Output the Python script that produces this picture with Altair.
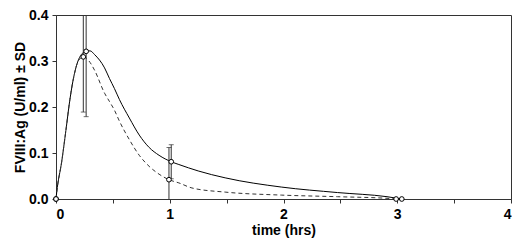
import altair as alt
import pandas as pd

# Fitted curves
solid_t = [0.0, 0.006, 0.05, 0.087, 0.122, 0.16, 0.2, 0.261, 0.30, 0.339, 0.427, 0.47, 0.514, 0.558,
           0.645, 0.732, 0.819, 0.906, 1.013, 1.08, 1.25, 1.487, 1.98, 2.475, 2.91, 3.04]
solid_v = [0.0, 0.014, 0.081, 0.149, 0.216, 0.270, 0.304, 0.321, 0.322, 0.314, 0.285, 0.262, 0.240, 0.216,
           0.176, 0.139, 0.112, 0.095, 0.081, 0.075, 0.061, 0.046, 0.026, 0.014, 0.005, 0.0]

dashed_t = [0.0, 0.006, 0.05, 0.087, 0.122, 0.16, 0.2, 0.244, 0.29, 0.339, 0.427, 0.47, 0.514, 0.558,
            0.645, 0.732, 0.819, 0.906, 0.993, 1.08, 1.195, 1.487, 1.98, 2.475, 2.94, 2.99]
dashed_v = [0.0, 0.014, 0.081, 0.149, 0.216, 0.270, 0.302, 0.309, 0.300, 0.280, 0.230, 0.212, 0.193, 0.169,
            0.129, 0.095, 0.071, 0.054, 0.042, 0.035, 0.024, 0.015, 0.0085, 0.005, 0.001, 0.0]

# Measured points with ± SD
pt_series = ["solid", "solid", "solid", "solid", "dashed", "dashed", "dashed", "dashed"]
pt_t = [0.0, 0.265, 1.013, 3.04, 0.0, 0.24, 0.993, 2.99]
pt_mean = [0.0, 0.321, 0.081, 0.0, 0.0, 0.309, 0.042, 0.0]
pt_sd = [0.0, 0.142, 0.037, 0.0, 0.0, 0.12, 0.070, 0.0]

curves = pd.DataFrame(
    {"t": solid_t + dashed_t,
     "v": solid_v + dashed_v,
     "series": ["solid"] * len(solid_t) + ["dashed"] * len(dashed_t),
     "order": list(range(len(solid_t))) + list(range(len(dashed_t)))}
)
pts = pd.DataFrame({"series": pt_series, "t": pt_t, "mean": pt_mean, "sd": pt_sd})
pts["lo"] = pts["mean"] - pts["sd"]
pts["hi"] = pts["mean"] + pts["sd"]
bars = pts[pts["sd"] > 0]

FONT = "Liberation Sans"

xs = alt.Scale(domain=[0, 4], nice=False)
ys = alt.Scale(domain=[0, 0.4], nice=False)

xaxis = alt.Axis(values=[0, 0.5, 1, 1.5, 2, 2.5, 3, 3.5, 4],
                 labelExpr="datum.value % 1 == 0 ? format(datum.value, 'd') : ''",
                 title="time (hrs)", grid=False, tickSize=4, labelPadding=4, titlePadding=2)
yaxis = alt.Axis(values=[0, 0.1, 0.2, 0.3, 0.4], format=".1f",
                 title="FVIII:Ag (U/ml) ± SD", grid=False, tickSize=4, labelPadding=4, titlePadding=1)

solid_line = alt.Chart(curves[curves.series == "solid"]).mark_line(
    color="black", strokeWidth=1, interpolate="monotone"
).encode(
    x=alt.X("t:Q", scale=xs, axis=xaxis),
    y=alt.Y("v:Q", scale=ys, axis=yaxis),
    order="order:Q",
)
dashed_line = alt.Chart(curves[curves.series == "dashed"]).mark_line(
    color="#333333", strokeWidth=1, strokeDash=[4, 3], interpolate="monotone"
).encode(x=alt.X("t:Q", scale=xs), y=alt.Y("v:Q", scale=ys), order="order:Q")

rules = alt.Chart(bars).mark_rule(color="#333333", strokeWidth=1, clip=True).encode(
    x=alt.X("t:Q", scale=xs), y=alt.Y("lo:Q", scale=ys), y2="hi:Q"
)
caps_lo = alt.Chart(bars).mark_tick(color="#333333", orient="horizontal", size=5, thickness=1, clip=True).encode(
    x=alt.X("t:Q", scale=xs), y=alt.Y("lo:Q", scale=ys)
)
caps_hi = alt.Chart(bars).mark_tick(color="#333333", orient="horizontal", size=5, thickness=1, clip=True).encode(
    x=alt.X("t:Q", scale=xs), y=alt.Y("hi:Q", scale=ys)
)
points = alt.Chart(pts).mark_point(
    shape="circle", filled=True, fill="white", stroke="black", strokeWidth=1, size=22, opacity=1
).encode(x=alt.X("t:Q", scale=xs), y=alt.Y("mean:Q", scale=ys))

chart = alt.layer(solid_line, dashed_line, rules, caps_lo, caps_hi, points).properties(
    width=455, height=184,
    autosize=alt.AutoSizeParams(type="none"),
    padding={"left": 48, "top": 7, "right": 1, "bottom": 39},
).configure_view(
    stroke="#333333", strokeWidth=1
).configure_axis(
    labelFont=FONT, titleFont=FONT, labelFontSize=14, titleFontSize=14,
    labelFontWeight="bold", titleFontWeight="bold",
    labelColor="black", titleColor="black",
    domainColor="#333333", tickColor="#333333",
)

chart.save("out.html", embed_options={"renderer": "svg", "actions": False})
